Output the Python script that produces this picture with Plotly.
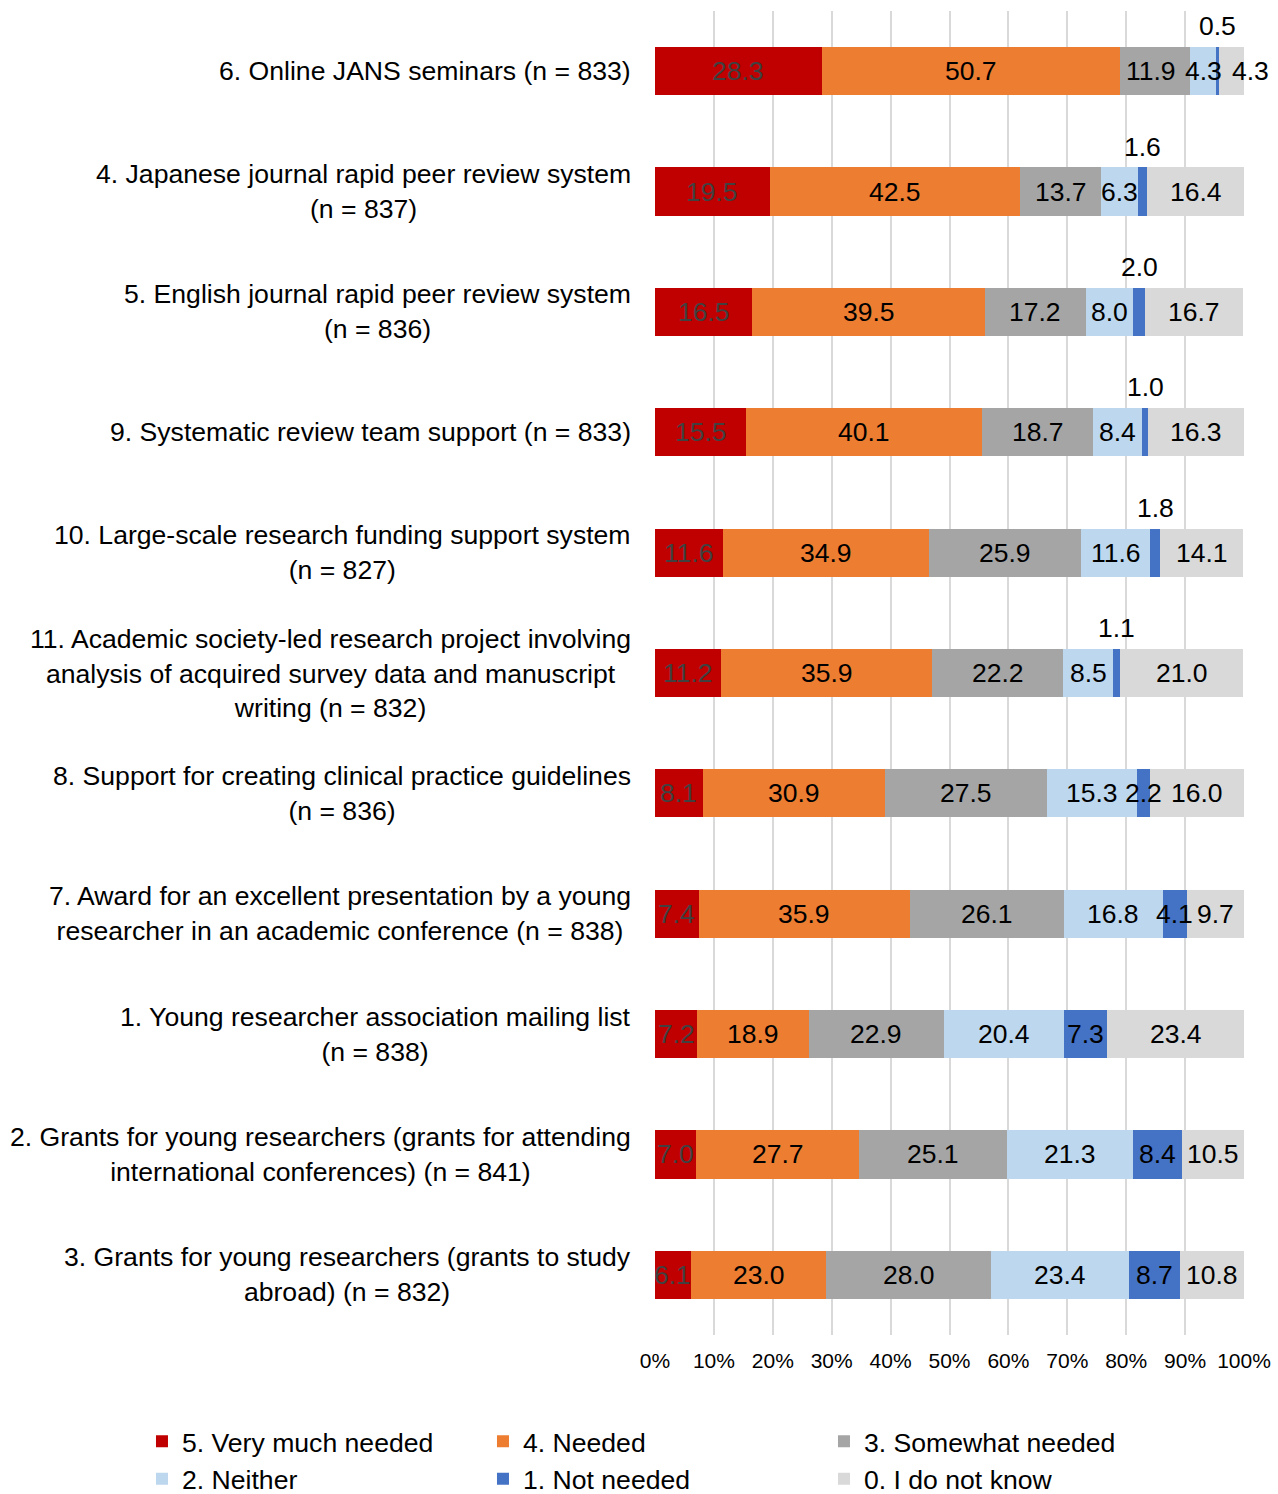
import plotly.graph_objects as go

categories = [
    "6. Online JANS seminars (n = 833)",
    "4. Japanese journal rapid peer review system<br>(n = 837)",
    "5. English journal rapid peer review system<br>(n = 836)",
    "9. Systematic review team support (n = 833)",
    "10. Large-scale research funding support system<br>(n = 827)",
    "11. Academic society-led research project involving<br>analysis of acquired survey data and manuscript<br>writing (n = 832)",
    "8. Support for creating clinical practice guidelines<br>(n = 836)",
    "7. Award for an excellent presentation by a young<br>researcher in an academic conference (n = 838)",
    "1. Young researcher association mailing list<br>(n = 838)",
    "2. Grants for young researchers (grants for attending<br>international conferences) (n = 841)",
    "3. Grants for young researchers (grants to study<br>abroad) (n = 832)",
]

series_names = [
    "5. Very much needed",
    "4. Needed",
    "3. Somewhat needed",
    "2. Neither",
    "1. Not needed",
    "0. I do not know",
]

very_much_needed = [28.3, 19.5, 16.5, 15.5, 11.6, 11.2, 8.1, 7.4, 7.2, 7.0, 6.1]
needed = [50.7, 42.5, 39.5, 40.1, 34.9, 35.9, 30.9, 35.9, 18.9, 27.7, 23.0]
somewhat_needed = [11.9, 13.7, 17.2, 18.7, 25.9, 22.2, 27.5, 26.1, 22.9, 25.1, 28.0]
neither = [4.3, 6.3, 8.0, 8.4, 11.6, 8.5, 15.3, 16.8, 20.4, 21.3, 23.4]
not_needed = [0.5, 1.6, 2.0, 1.0, 1.8, 1.1, 2.2, 4.1, 7.3, 8.4, 8.7]
do_not_know = [4.3, 16.4, 16.7, 16.3, 14.1, 21.0, 16.0, 9.7, 23.4, 10.5, 10.8]

tick_values = [0, 10, 20, 30, 40, 50, 60, 70, 80, 90, 100]
tick_labels = ["0%", "10%", "20%", "30%", "40%", "50%", "60%", "70%", "80%", "90%", "100%"]

all_series = [very_much_needed, needed, somewhat_needed, neither, not_needed, do_not_know]
colors = ["#C00000", "#ED7D31", "#A5A5A5", "#BDD7EE", "#4472C4", "#D9D9D9"]
label_colors = ["#404040", "#000000", "#000000", "#000000", "#000000", "#000000"]

FONT = "Liberation Sans, Arial, sans-serif"
fig = go.Figure()
for name, vals, col in zip(series_names, all_series, colors):
    fig.add_trace(go.Bar(
        y=categories, x=vals, name=name, orientation="h",
        marker=dict(color=col, line=dict(width=0)),
        hoverinfo="x+name",
    ))

annotations = []
# category labels (centred multi-line, right-anchored next to the plot)
for cat in categories:
    annotations.append(dict(
        x=0, xref="paper", y=cat, yref="y", text=cat, showarrow=False,
        xanchor="right", yanchor="middle", align="center", xshift=-22,
        font=dict(family=FONT, size=26.6, color="#000000"),
    ))

# data labels
for i, cat in enumerate(categories):
    start = 0.0
    for s, vals in enumerate(all_series):
        v = vals[i]
        center = start + v / 2
        yshift = 0
        xshift = 0
        if s == 4 and v < 2.1:
            yshift = 45
        if s == 5 and i == 0:
            xshift = 19
        if s == 2 and i == 0:
            xshift = -4
        annotations.append(dict(
            x=center, xref="x", y=cat, yref="y", text=f"{v:.1f}", showarrow=False,
            xanchor="center", yanchor="middle", yshift=yshift, xshift=xshift,
            font=dict(family=FONT, size=26.5, color=label_colors[s] if yshift == 0 else "#000000"),
        ))
        start += v

fig.update_layout(
    barmode="stack",
    bargap=0.6,
    width=1278, height=1494,
    margin=dict(l=655, r=34, t=11, b=159, autoexpand=False),
    paper_bgcolor="white", plot_bgcolor="white",
    font=dict(family=FONT, size=26, color="#000000"),
    xaxis=dict(
        range=[0, 100], tickvals=tick_values, ticktext=tick_labels,
        showgrid=True, gridcolor="#D9D9D9", gridwidth=2,
        zeroline=False, showline=False, ticks="",
        tickfont=dict(family=FONT, size=21, color="#000000"),
        ticklabelstandoff=11, fixedrange=True,
    ),
    yaxis=dict(
        categoryorder="array", categoryarray=categories, autorange="reversed",
        showticklabels=False, showgrid=False, zeroline=False, showline=False, ticks="",
    ),
    legend=dict(
        orientation="h", xref="paper", yref="paper",
        x=-0.871, y=-0.0622, xanchor="left", yanchor="top",
        entrywidth=296, entrywidthmode="pixels", itemwidth=30,
        font=dict(family=FONT, size=26.6, color="#000000"),
        traceorder="normal", bgcolor="rgba(0,0,0,0)",
        tracegroupgap=0,
    ),
    annotations=annotations,
    showlegend=True,
)

fig.write_html("out.html")
